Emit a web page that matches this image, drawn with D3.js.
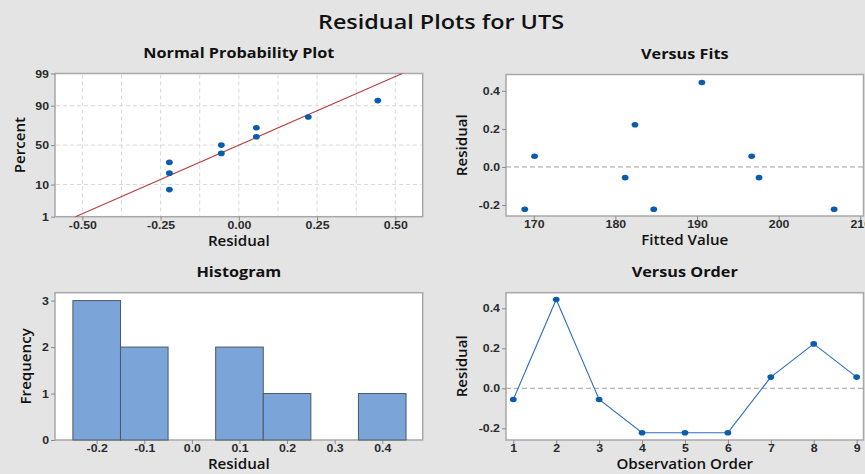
<!DOCTYPE html>
<html>
<head>
<meta charset="utf-8">
<script src="https://cdn.jsdelivr.net/npm/d3@7"></script>
<style>
  body { margin: 0; background: #e4e4e4; }
  svg { display: block; font-family: "Open Sans", "Noto Sans", sans-serif; }
  .tick text { fill: #2a2a2a; font-size: 11px; font-weight: 600; transform-box: fill-box; transform: scaleX(1.12); }
  .x-axis .tick text { transform-origin: center; }
  .y-axis .tick text { transform-origin: right; }
  .tick line { stroke: #8a8a8a; }
  .domain { display: none; }
</style>
</head>
<body>
<svg id="chart" width="865" height="474"></svg>
<script>
// residuals by observation order
const obsOrder = [1, 2, 3, 4, 5, 6, 7, 8, 9];
const residuals = [-0.056, 0.444, -0.056, -0.222, -0.222, -0.222, 0.056, 0.222, 0.056];
const fittedValues = [181.2, 190.6, 197.6, 168.9, 184.7, 206.8, 170.1, 182.4, 196.7];

// normal probability plot (sorted residuals vs median-rank percent)
const nppResiduals = [-0.222, -0.222, -0.222, -0.056, -0.056, 0.056, 0.056, 0.222, 0.444];
const nppPercent = [7.4, 18.1, 28.7, 39.4, 50.0, 60.6, 71.3, 81.9, 92.6];
const nppFitLine = [{ r: -0.522, p: 1 }, { r: 0.522, p: 99 }];
const nppXTicks = [-0.5, -0.25, 0, 0.25, 0.5];
const nppXGrid = [-0.5, -0.375, -0.25, -0.125, 0, 0.125, 0.25, 0.375, 0.5];
const nppYTicks = [1, 10, 50, 90, 99];

// histogram
const binCenters = [-0.2, -0.1, 0.0, 0.1, 0.2, 0.3, 0.4];
const binCounts = [3, 2, 0, 2, 1, 0, 1];
const binWidth = 0.1;

const svg = d3.select('#chart');
const pointColor = '#0b5cad';
// plain hyphen minus like the reference
const fmt = d3.formatLocale({ decimal: '.', thousands: ',', grouping: [3], currency: ['', ''], minus: '-' }).format;

// inverse normal cdf (Acklam) for the probability axis
const probit = (p) => {
  const a = [-39.6968302866538, 220.946098424521, -275.928510446969, 138.357751867269, -30.6647980661472, 2.50662827745924];
  const b = [-54.4760987982241, 161.585836858041, -155.698979859887, 66.8013118877197, -13.2806815528857];
  const c = [-0.00778489400243029, -0.322396458041136, -2.40075827716184, -2.54973253934373, 4.37466414146497, 2.93816398269878];
  const d = [0.00778469570904146, 0.32246712907004, 2.445134137143, 3.75440866190742];
  const pl = 0.02425;
  let q, r;
  if (p < pl) {
    q = Math.sqrt(-2 * Math.log(p));
    return (((((c[0] * q + c[1]) * q + c[2]) * q + c[3]) * q + c[4]) * q + c[5]) /
      ((((d[0] * q + d[1]) * q + d[2]) * q + d[3]) * q + 1);
  } else if (p <= 1 - pl) {
    q = p - 0.5; r = q * q;
    return (((((a[0] * r + a[1]) * r + a[2]) * r + a[3]) * r + a[4]) * r + a[5]) * q /
      (((((b[0] * r + b[1]) * r + b[2]) * r + b[3]) * r + b[4]) * r + 1);
  }
  q = Math.sqrt(-2 * Math.log(1 - p));
  return -(((((c[0] * q + c[1]) * q + c[2]) * q + c[3]) * q + c[4]) * q + c[5]) /
    ((((d[0] * q + d[1]) * q + d[2]) * q + d[3]) * q + 1);
};

// text helper: the reference is slightly stretched horizontally
const label = (parent, x, y, str, size, weight, sx, rotate = 0) => parent.append('text')
  .attr('transform', `translate(${x},${y}) rotate(${rotate}) scale(${sx},1)`)
  .attr('text-anchor', 'middle')
  .attr('font-size', size).attr('font-weight', weight)
  .attr('fill', '#111')
  .text(str);

// main title
label(svg, 441, 29, 'Residual Plots for UTS', 20, 600, 1.17);

const makePanel = (box, title, xLabel, yLabel, yLabelX) => {
  const g = svg.append('g');
  g.append('rect')
    .attr('x', box.left).attr('y', box.top)
    .attr('width', box.right - box.left).attr('height', box.bottom - box.top)
    .attr('fill', '#fff').attr('stroke', '#a8a8a8').attr('stroke-width', 1.5);
  const cx = (box.left + box.right) / 2;
  label(g, cx, box.top - 16, title, 14, 700, 1.16);
  label(g, cx, box.bottom + 29, xLabel, 14, 600, 1.08);
  label(g, yLabelX, (box.top + box.bottom) / 2, yLabel, 14, 600, 1.08, -90);
  return g;
};

const addAxes = (g, box, x, y, xTicks, yTicks, xFmt, yFmt) => {
  g.append('g')
    .attr('class', 'x-axis')
    .attr('transform', `translate(0,${box.bottom})`)
    .call(d3.axisBottom(x).tickValues(xTicks).tickFormat(xFmt).tickSize(4).tickPadding(0));
  g.append('g')
    .attr('class', 'y-axis')
    .attr('transform', `translate(${box.left},0)`)
    .call(d3.axisLeft(y).tickValues(yTicks).tickFormat(yFmt).tickSize(4).tickPadding(2));
};

const addPoints = (g, data, x, y) => {
  g.selectAll('.pt')
    .data(data)
    .enter()
    .append('ellipse')
    .attr('class', 'pt')
    .attr('cx', (d) => x(d[0]))
    .attr('cy', (d) => y(d[1]))
    .attr('rx', 3.4).attr('ry', 2.8)
    .attr('fill', pointColor);
};

const zeroLine = (g, box, y) => {
  g.append('line')
    .attr('x1', box.left).attr('x2', box.right)
    .attr('y1', y(0)).attr('y2', y(0))
    .attr('stroke', '#a0a0a0').attr('stroke-width', 1)
    .attr('stroke-dasharray', '5,3');
};

// 1. normal probability plot
{
  const box = { left: 55, top: 73.5, right: 422.7, bottom: 216.7 };
  const g = makePanel(box, 'Normal Probability Plot', 'Residual', 'Percent', 25);
  const x = d3.scaleLinear().domain([-0.5875, 0.5875]).range([box.left, box.right]);
  const zScale = d3.scaleLinear().domain([probit(0.01), probit(0.99)]).range([box.bottom, box.top]);
  const y = (p) => zScale(probit(p / 100));

  g.selectAll('.vgrid')
    .data(nppXGrid)
    .enter()
    .append('line')
    .attr('x1', (d) => x(d)).attr('x2', (d) => x(d))
    .attr('y1', box.top + 1).attr('y2', box.bottom - 1)
    .attr('stroke', '#d9d9d9').attr('stroke-dasharray', '4,3');
  g.selectAll('.hgrid')
    .data(nppYTicks.slice(1, -1))
    .enter()
    .append('line')
    .attr('x1', box.left + 1).attr('x2', box.right - 1)
    .attr('y1', (d) => y(d)).attr('y2', (d) => y(d))
    .attr('stroke', '#d9d9d9').attr('stroke-dasharray', '4,3');

  g.append('g')
    .attr('class', 'x-axis')
    .attr('transform', `translate(0,${box.bottom})`)
    .call(d3.axisBottom(x).tickValues(nppXTicks).tickFormat(fmt('.2f')).tickSize(4).tickPadding(0));
  g.append('g')
    .attr('class', 'y-axis')
    .attr('transform', `translate(${box.left},0)`)
    .call(d3.axisLeft(zScale)
      .tickValues(nppYTicks.map((p) => probit(p / 100)))
      .tickFormat((d, i) => nppYTicks[i])
      .tickSize(4).tickPadding(2));

  g.append('line')
    .attr('x1', x(nppFitLine[0].r)).attr('y1', y(nppFitLine[0].p))
    .attr('x2', x(nppFitLine[1].r)).attr('y2', y(nppFitLine[1].p))
    .attr('stroke', '#b5403f').attr('stroke-width', 1.1);

  addPoints(g, nppResiduals.map((r, i) => [r, nppPercent[i]]), x, y);
}

// 2. versus fits
{
  const box = { left: 506, top: 74.5, right: 863.5, bottom: 216 };
  const g = makePanel(box, 'Versus Fits', 'Fitted Value', 'Residual', 467);
  const x = d3.scaleLinear().domain([166.6, 210.4]).range([box.left, box.right]);
  const y = d3.scaleLinear().domain([-0.2576, 0.486]).range([box.bottom, box.top]);
  addAxes(g, box, x, y, [170, 180, 190, 200, 210], [-0.2, 0, 0.2, 0.4], fmt('d'), fmt('.1f'));
  zeroLine(g, box, y);
  addPoints(g, fittedValues.map((f, i) => [f, residuals[i]]), x, y);
}

// 3. histogram
{
  const box = { left: 55, top: 292.7, right: 422.7, bottom: 440 };
  const g = makePanel(box, 'Histogram', 'Residual', 'Frequency', 30.5);
  const x = d3.scaleLinear().domain([-0.2876, 0.485]).range([box.left, box.right]);
  const y = d3.scaleLinear().domain([0, 3.17]).range([box.bottom, box.top]);
  addAxes(g, box, x, y, binCenters, [0, 1, 2, 3], fmt('.1f'), fmt('d'));
  g.selectAll('.bar')
    .data(binCenters.map((c, i) => ({ c, n: binCounts[i] })).filter((d) => d.n > 0))
    .enter()
    .append('rect')
    .attr('class', 'bar')
    .attr('x', (d) => x(d.c - binWidth / 2))
    .attr('y', (d) => y(d.n))
    .attr('width', (d) => x(d.c + binWidth / 2) - x(d.c - binWidth / 2))
    .attr('height', (d) => y(0) - y(d.n))
    .attr('fill', '#7ba5d8')
    .attr('stroke', '#4d5866').attr('stroke-width', 1);
}

// 4. versus order
{
  const box = { left: 506, top: 292.7, right: 863.5, bottom: 440 };
  const g = makePanel(box, 'Versus Order', 'Observation Order', 'Residual', 467);
  const x = d3.scaleLinear().domain([0.83, 9.16]).range([box.left, box.right]);
  const y = d3.scaleLinear().domain([-0.2585, 0.478]).range([box.bottom, box.top]);
  addAxes(g, box, x, y, obsOrder, [-0.2, 0, 0.2, 0.4], fmt('d'), fmt('.1f'));
  zeroLine(g, box, y);
  const pts = obsOrder.map((o, i) => [o, residuals[i]]);
  g.append('path')
    .datum(pts)
    .attr('fill', 'none')
    .attr('stroke', '#2f6fbe').attr('stroke-width', 1.1)
    .attr('d', d3.line().x((d) => x(d[0])).y((d) => y(d[1])));
  addPoints(g, pts, x, y);
}
</script>
</body>
</html>
